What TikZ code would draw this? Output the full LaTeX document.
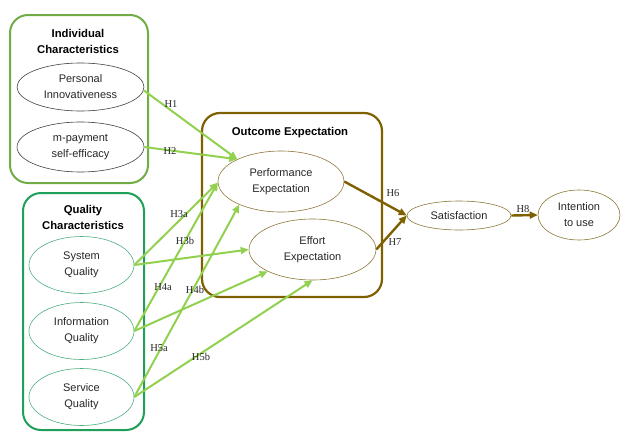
\documentclass[tikz,border=0pt]{standalone}
\usepackage{fontspec}
\setmainfont{Liberation Sans}
\newfontfamily\hypfont{Liberation Serif}
\usetikzlibrary{shapes.geometric,arrows.meta}

\definecolor{indgreen}{HTML}{70AD47}
\definecolor{qualgreen}{HTML}{1FA05A}
\definecolor{qualedge}{HTML}{4FAE80}
\definecolor{linkgreen}{HTML}{92D050}
\definecolor{outbrown}{HTML}{7F6000}
\definecolor{outedge}{HTML}{8C7838}
\definecolor{indedge}{HTML}{404040}

\tikzset{
  construct/.style={ellipse, draw, line width=0.6pt, inner sep=0pt, align=center,
    font=\fontsize{11}{16}\selectfont, text=black!85},
  groupbox/.style={draw, line width=2pt, rounded corners=18pt},
  grouptitle/.style={align=center, font=\fontsize{11.3}{16}\selectfont\bfseries},
  glink/.style={draw=linkgreen, line width=2pt, -{Triangle[length=8pt,width=7pt]}},
  blink/.style={draw=outbrown, line width=2.4pt, -{Triangle[length=8pt,width=7pt]}},
  hyp/.style={font=\hypfont\fontsize{10.5}{12}\selectfont, text=black!85, inner sep=0pt}
}

\begin{document}
\begin{tikzpicture}[x=1pt, y=-1pt]
\useasboundingbox (0,0) rectangle (626,431);

% group frames
\draw[groupbox, draw=indgreen] (10,15) rectangle (148,183);
\draw[groupbox, draw=qualgreen] (23,193) rectangle (144,430);
\draw[groupbox, draw=outbrown, line width=2.2pt] (202,113) rectangle (382,297);

% group titles
\node[grouptitle] (indtitle) at (78,41) {Individual\\Characteristics};
\node[grouptitle] (qualtitle) at (83,217) {Quality\\Characteristics};
\node[grouptitle] (outtitle) at (290,133) {Outcome Expectation};

% constructs
\node[construct, draw=indedge, minimum width=127pt, minimum height=48pt] (pi) at (80.5,87) {Personal\\Innovativeness};
\node[construct, draw=indedge, minimum width=127pt, minimum height=50pt] (mse) at (80.5,147) {m-payment\\self-efficacy};

\node[construct, draw=qualedge, minimum width=105pt, minimum height=57pt] (sq) at (81.5,265) {System\\Quality};
\node[construct, draw=qualedge, minimum width=105pt, minimum height=57pt] (iq) at (81.5,331) {Information\\Quality};
\node[construct, draw=qualedge, minimum width=105pt, minimum height=57pt] (svq) at (81.5,397) {Service\\Quality};

\node[construct, draw=outedge, minimum width=126pt, minimum height=61pt] (pe) at (281,181.5) {Performance\\Expectation};
\node[construct, draw=outedge, minimum width=127pt, minimum height=61pt] (ee) at (312.5,249.5) {Effort\\Expectation};

\node[construct, draw=outedge, minimum width=104pt, minimum height=29pt] (sat) at (459,215.5) {Satisfaction};
\node[construct, draw=outedge, minimum width=82pt, minimum height=50pt] (itu) at (579,215) {Intention\\to use};

% hypothesised paths
\draw[glink] (pi.-3) -- (pe.153);
\draw[glink] (mse.east) -- (pe.153);
\draw[glink] (sq.east) -- (pe.181);
\draw[glink] (sq.east) -- (ee.west);
\draw[glink] (iq.east) -- (pe.181);
\draw[glink] (iq.east) -- (ee.206);
\draw[glink] (svq.east) -- (pe.209);
\draw[glink] (svq.east) -- (ee.south);

\draw[blink] (pe.east) -- (sat.west);
\draw[blink] (ee.east) -- (sat.west);
\draw[blink] (sat.east) -- (itu.west);

% path labels
\node[hyp] (h1) at (171,104) {H1};
\node[hyp] (h2) at (170,151) {H2};
\node[hyp] (h3a) at (179,214) {H3a};
\node[hyp] (h3b) at (185,241) {H3b};
\node[hyp] (h4a) at (163,287) {H4a};
\node[hyp] (h4b) at (195,290) {H4b};
\node[hyp] (h5a) at (159,348) {H5a};
\node[hyp] (h5b) at (201,357) {H5b};
\node[hyp] (h6) at (393,193) {H6};
\node[hyp] (h7) at (395,242) {H7};
\node[hyp] (h8) at (523,209) {H8};
\end{tikzpicture}
\end{document}
